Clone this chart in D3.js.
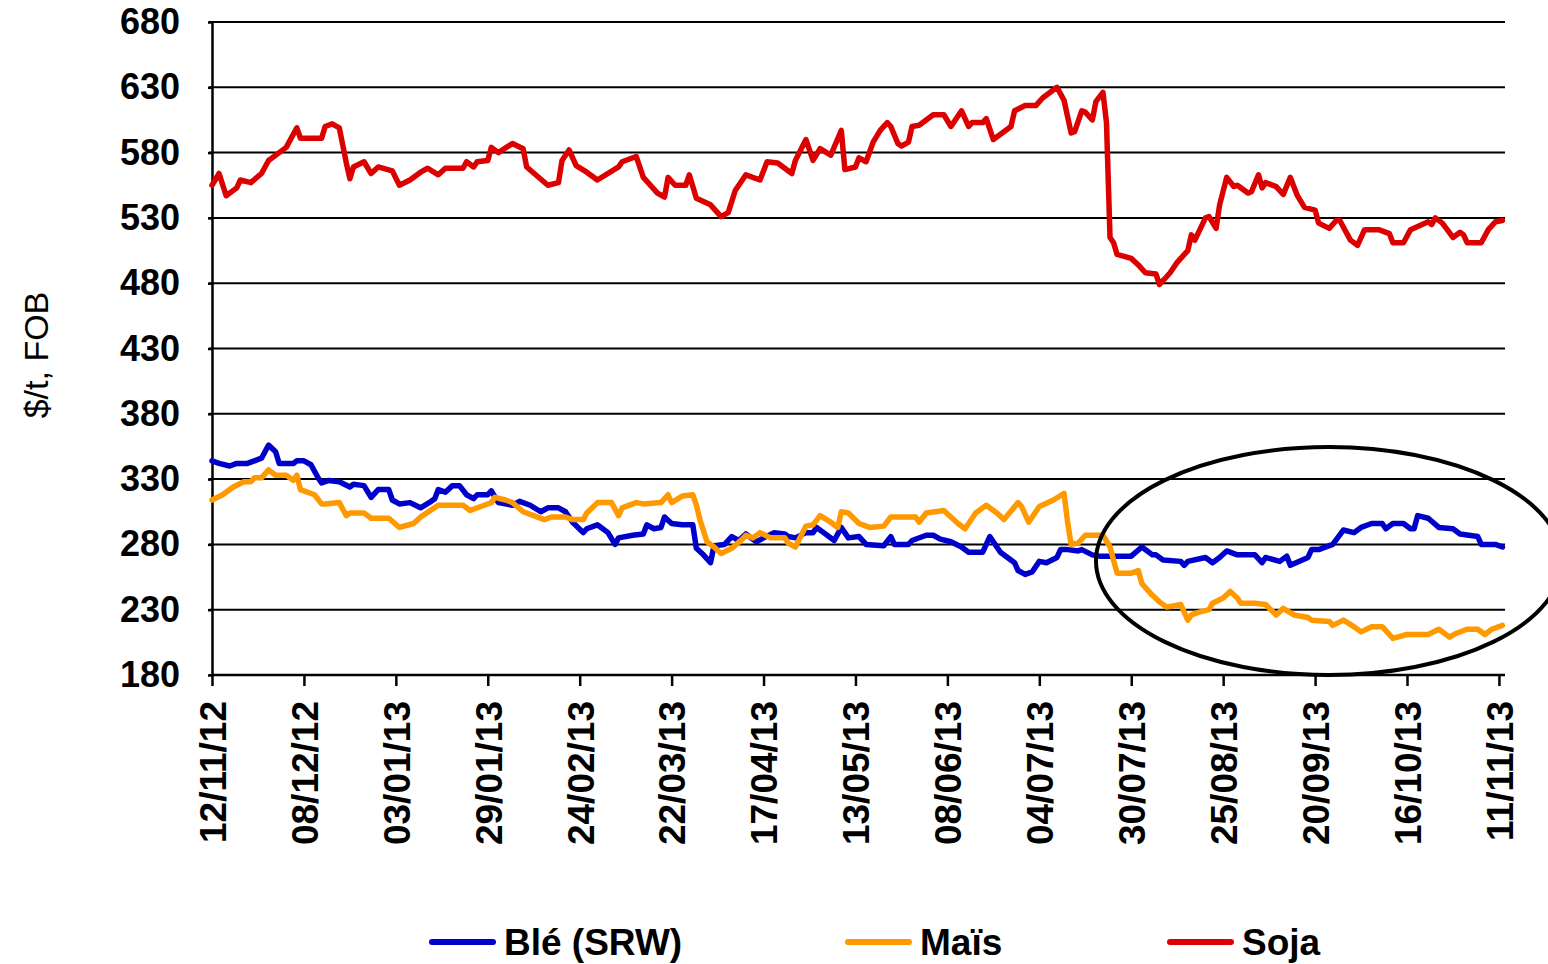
<!DOCTYPE html>
<html>
<head>
<meta charset="utf-8">
<style>
  body { margin: 0; background: #fff; }
  svg { display: block; background: #fff; font-family: "Liberation Sans", Arial, sans-serif; }
  .grid line { stroke: #000; stroke-width: 2; }
  .axis path, .axis line { stroke: #000; stroke-width: 2.5; }
  .axis text { font-weight: bold; fill: #000; }
  .series { fill: none; stroke-width: 5.5; stroke-linejoin: round; stroke-linecap: round; }
</style>
<script src="https://d3js.org/d3.v7.min.js"></script>
</head>
<body>
<script>
  // dates on the x axis (every 26 days)
  const xTickLabels = ["12/11/12", "08/12/12", "03/01/13", "29/01/13", "24/02/13", "22/03/13",
    "17/04/13", "13/05/13", "08/06/13", "04/07/13", "30/07/13", "25/08/13", "20/09/13",
    "16/10/13", "11/11/13"];
  const yTicks = [180, 230, 280, 330, 380, 430, 480, 530, 580, 630, 680];

  const seriesNames = ["Blé (SRW)", "Maïs", "Soja"];
  const seriesColors = ["#0000cc", "#ff9900", "#dd0000"];

  // days counted from 12/11/12, prices in $/t FOB
  const bleDays = [
    0, 2, 5, 7, 10, 12, 14, 16, 18, 19,
    23, 24, 26, 28, 30, 31, 33, 36, 39, 40,
    43, 45, 47, 50, 51, 53, 56, 59, 62, 63,
    64, 66, 68, 70, 72, 74, 75, 78, 79, 81,
    85, 87, 90, 93, 95, 98, 100, 102, 105, 106,
    109, 112, 114, 115, 119, 122, 123, 125, 127, 128,
    130, 133, 136, 137, 139, 141, 142, 145, 147, 149,
    151, 154, 156, 159, 162, 163, 165, 168, 170, 171,
    173, 176, 178, 180, 183, 185, 190, 192, 193, 197,
    198, 202, 204, 206, 209, 212, 214, 218, 220, 223,
    225, 227, 228, 230, 232, 234, 236, 239, 240, 242,
    245, 246, 249, 251, 255, 260, 263, 266, 267, 269,
    274, 275, 276, 281, 283, 285, 287, 290, 295, 297,
    298, 302, 304, 305, 310, 311, 313, 317, 320, 323,
    325, 328, 331, 332, 334, 337, 339, 340, 341, 344,
    347, 351, 353, 358, 359, 363, 365];
  const bleValues = [
    344, 342, 340, 342, 342, 344, 346, 356, 351, 342,
    342, 344, 344, 341, 331, 327, 329, 328, 324, 326,
    325, 316, 322, 322, 314, 311, 312, 308, 313, 315,
    322, 320, 325, 325, 318, 315, 318, 318, 321, 312,
    310, 313, 310, 305, 308, 308, 305, 297, 289, 292,
    295, 289, 280, 285, 287, 288, 295, 292, 293, 301,
    296, 295, 295, 277, 272, 266, 279, 280, 286, 283,
    288, 282, 285, 289, 288, 286, 285, 289, 289, 293,
    289, 283, 293, 285, 286, 280, 279, 286, 280, 280,
    283, 287, 287, 284, 282, 278, 274, 274, 286, 274,
    270, 266, 260, 257, 259, 267, 266, 270, 276, 276,
    275, 276, 272, 271, 271, 271, 278, 272, 272, 268,
    267, 264, 267, 270, 266, 270, 275, 272, 272, 266,
    270, 267, 271, 264, 270, 276, 276, 280, 291, 289,
    293, 296, 296, 292, 296, 296, 292, 292, 302, 300,
    293, 292, 288, 286, 280, 280, 278];

  const maisDays = [
    0, 3, 6, 9, 11, 12, 14, 16, 18, 21,
    23, 24, 25, 29, 31, 32, 36, 38, 39, 43,
    45, 50, 53, 57, 59, 64, 71, 73, 77, 79,
    80, 83, 85, 88, 91, 94, 96, 100, 102, 105,
    106, 109, 113, 115, 116, 120, 122, 127, 129, 130,
    133, 136, 137, 138, 140, 142, 144, 147, 150, 151,
    153, 155, 158, 162, 163, 165, 168, 170, 172, 175,
    177, 178, 180, 183, 186, 190, 192, 196, 199, 200,
    202, 207, 209, 211, 213, 216, 219, 222, 224, 228,
    229, 231, 234, 238, 241, 242, 243, 245, 247, 252,
    254, 256, 260, 262, 263, 266, 268, 270, 274, 276,
    277, 279, 282, 283, 286, 288, 290, 291, 295, 298,
    301, 303, 306, 310, 311, 316, 317, 320, 323, 325,
    328, 331, 334, 338, 344, 347, 350, 352, 355, 358,
    360, 362, 365];
  const maisValues = [
    314, 318, 324, 328, 328, 331, 331, 337, 333, 333,
    329, 333, 322, 318, 311, 311, 312, 302, 304, 304,
    300, 300, 293, 296, 301, 310, 310, 306, 310, 312,
    316, 314, 312, 305, 302, 299, 301, 301, 299, 299,
    304, 312, 312, 302, 308, 312, 311, 312, 318, 312,
    317, 318, 310, 299, 282, 278, 273, 277, 284, 287,
    285, 289, 285, 285, 281, 278, 294, 295, 302, 297,
    293, 305, 304, 296, 293, 294, 301, 301, 301, 297,
    304, 306, 301, 296, 292, 304, 310, 304, 299, 312,
    309, 297, 309, 314, 319, 297, 280, 281, 287, 287,
    278, 258, 258, 260, 250, 241, 236, 232, 234, 222,
    226, 228, 230, 235, 239, 244, 239, 235, 235, 234,
    226, 231, 226, 224, 222, 221, 218, 222, 217, 213,
    217, 217, 208, 211, 211, 215, 209, 212, 215, 215,
    211, 215, 218];

  const sojaDays = [
    0, 2, 4, 7, 8, 11, 14, 16, 19, 21,
    24, 25, 31, 32, 34, 36, 38, 39, 40, 43,
    45, 47, 51, 53, 56, 59, 61, 64, 66, 71,
    72, 74, 75, 78, 79, 81, 85, 88, 89, 95,
    98, 99, 101, 103, 106, 109, 115, 116, 120, 122,
    126, 128, 129, 131, 134, 135, 137, 141, 144, 146,
    148, 151, 155, 157, 160, 164, 165, 168, 170, 172,
    175, 178, 179, 182, 183, 185, 187, 189, 191, 192,
    194, 195, 197, 198, 200, 204, 207, 209, 212, 214,
    215, 218, 219, 221, 226, 227, 230, 233, 235, 239,
    241, 243, 244, 246, 247, 249, 250, 252, 253, 254,
    255, 256, 260, 262, 264, 267, 268, 271, 273, 276,
    277, 278, 281, 282, 284, 285, 287, 289, 290, 293,
    294, 296, 297, 298, 301, 303, 305, 307, 309, 312,
    313, 316, 318, 319, 322, 324, 326, 330, 333, 334,
    337, 339, 344, 345, 346, 348, 351, 353, 354, 355,
    358, 359, 361, 363, 365];
  const sojaValues = [
    555, 564, 547, 553, 559, 557, 564, 574, 580, 584,
    599, 591, 591, 600, 602, 599, 572, 560, 569, 573,
    564, 569, 566, 555, 559, 565, 568, 563, 568, 568,
    573, 569, 573, 574, 584, 580, 587, 583, 569, 555,
    557, 574, 582, 570, 565, 559, 569, 573, 577, 561,
    549, 546, 561, 555, 555, 563, 545, 540, 531, 534,
    551, 563, 559, 573, 572, 564, 574, 590, 574, 583,
    578, 597, 567, 569, 576, 573, 588, 597, 603, 600,
    587, 585, 588, 600, 601, 609, 609, 600, 612, 600,
    603, 603, 606, 590, 600, 612, 616, 616, 622, 630,
    620, 595, 596, 612, 611, 605, 619, 626, 603, 515,
    511, 502, 499, 494, 488, 487, 479, 488, 496, 505,
    517, 513, 530, 531, 522, 540, 561, 554, 555, 549,
    550, 563, 553, 557, 554, 548, 561, 547, 538, 536,
    526, 522, 528, 528, 513, 509, 521, 521, 518, 511,
    511, 521, 527, 525, 530, 526, 515, 519, 517, 511,
    511, 511, 521, 527, 528];

  const width = 1548;
  const height = 964;
  const margin = { left: 212, right: 42, top: 22, bottom: 289 };

  const parseDate = d3.timeParse("%d/%m/%y");
  const start = parseDate(xTickLabels[0]);

  const x = d3.scaleTime()
    .domain([start, d3.timeDay.offset(start, 366)])
    .range([margin.left, width - margin.right]);

  const y = d3.scaleLinear()
    .domain([180, 680])
    .range([height - margin.bottom, margin.top]);

  const svg = d3.select("body")
    .append("svg")
    .attr("width", width)
    .attr("height", height);

  // horizontal grid
  svg.append("g")
    .attr("class", "grid")
    .selectAll("line")
    .data(yTicks)
    .join("line")
    .attr("x1", margin.left - 3)
    .attr("x2", width - margin.right - 1)
    .attr("y1", d => y(d))
    .attr("y2", d => y(d));

  // y axis
  const yAxis = svg.append("g")
    .attr("class", "axis")
    .attr("transform", `translate(${margin.left},0)`)
    .call(d3.axisLeft(y).tickValues(yTicks).tickSize(4).tickPadding(28).tickSizeOuter(0));
  yAxis.selectAll("text").style("font-size", "36px");

  // x axis with rotated date labels
  const xAxis = svg.append("g")
    .attr("class", "axis")
    .attr("transform", `translate(0,${y(180)})`)
    .call(d3.axisBottom(x)
      .tickValues(xTickLabels.map(parseDate))
      .tickSize(11)
      .tickSizeOuter(0)
      .tickFormat(d3.timeFormat("%d/%m/%y")));
  xAxis.select(".domain").attr("d", `M${margin.left},0H${width - margin.right - 1}`);
  xAxis.selectAll("text")
    .style("font-size", "37px")
    .attr("text-anchor", "end")
    .attr("transform", "rotate(-90)")
    .attr("x", -26)
    .attr("y", 0)
    .attr("dy", "0.36em");

  // y title
  svg.append("text")
    .attr("transform", "translate(36,355) rotate(-90)")
    .attr("text-anchor", "middle")
    .attr("dy", "0.35em")
    .style("font-size", "34px")
    .text("$/t, FOB");

  const line = d3.line()
    .x(d => x(d3.timeDay.offset(start, d[0])))
    .y(d => y(d[1]));

  const series = [
    d3.zip(bleDays, bleValues),
    d3.zip(maisDays, maisValues),
    d3.zip(sojaDays, sojaValues)
  ];

  svg.append("g")
    .selectAll("path")
    .data(series)
    .join("path")
    .attr("class", "series")
    .attr("stroke", (d, i) => seriesColors[i])
    .attr("d", line);

  // highlight ellipse
  svg.append("ellipse")
    .attr("cx", 1329)
    .attr("cy", 561)
    .attr("rx", 233)
    .attr("ry", 114)
    .attr("fill", "none")
    .attr("stroke", "#000")
    .attr("stroke-width", 4);

  // legend
  const legendX = [430, 846, 1168];
  const legend = svg.append("g")
    .selectAll("g")
    .data(seriesNames)
    .join("g")
    .attr("transform", (d, i) => `translate(${legendX[i]},942)`);

  legend.append("line")
    .attr("x1", 2)
    .attr("x2", 63)
    .attr("stroke", (d, i) => seriesColors[i])
    .attr("stroke-width", 6)
    .attr("stroke-linecap", "round");

  legend.append("text")
    .attr("x", 74)
    .attr("dy", "0.36em")
    .style("font-size", "37px")
    .style("font-weight", "bold")
    .text(d => d);
</script>
</body>
</html>
